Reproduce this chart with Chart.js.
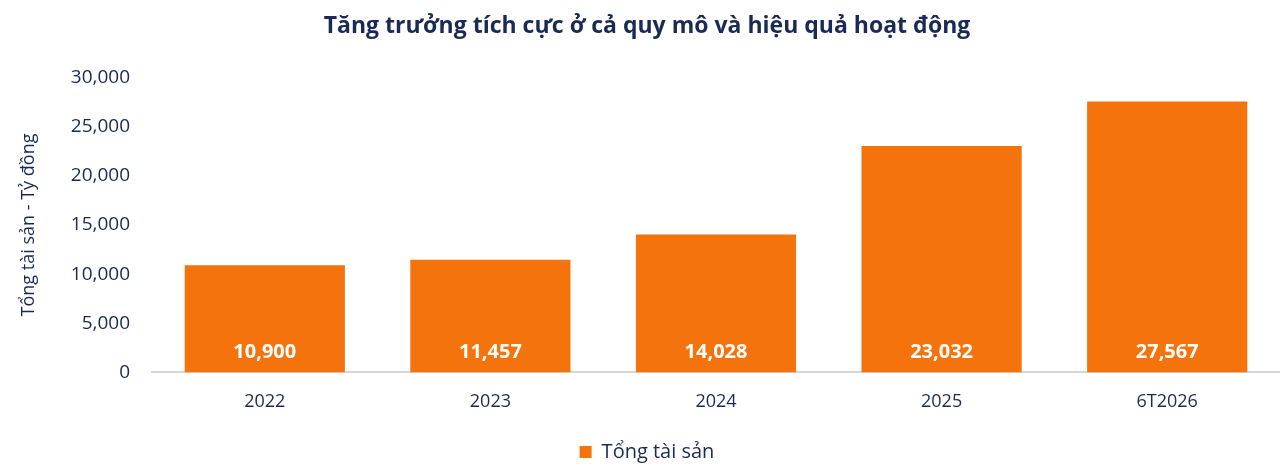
<!DOCTYPE html>
<html>
<head>
<meta charset="utf-8">
<script src="https://cdn.jsdelivr.net/npm/chart.js@4"></script>
<style>
  html, body { margin: 0; padding: 0; background: #fff; }
  #wrap { width: 1280px; height: 472px; }
</style>
</head>
<body>
<div id="wrap"><canvas id="myChart" width="1280" height="472"></canvas></div>
<script>
let labels = ['2022', '2023', '2024', '2025', '6T2026'];
let totalAssets = [10900, 11457, 14028, 23032, 27567];
let yTicks = [0, 5000, 10000, 15000, 20000, 25000, 30000];

let navy = '#1b2a55';
let orange = '#f4730c';
let fontName = "'Open Sans', 'Noto Sans', sans-serif";

// numbers written inside the bars, near the bottom
let insideLabels = {
    id: 'insideLabels',
    afterDatasetsDraw(chart) {
        let ctx = chart.ctx;
        let meta = chart.getDatasetMeta(0);
        let base = chart.scales.y.getPixelForValue(0);
        ctx.save();
        ctx.fillStyle = '#ffffff';
        ctx.font = 'bold 20px ' + fontName;
        ctx.textAlign = 'center';
        ctx.textBaseline = 'middle';
        meta.data.forEach((bar, i) => {
            ctx.fillText(totalAssets[i].toLocaleString('en-US'), bar.x, base - 20);
        });
        ctx.restore();
    }
};

let ctx = document.getElementById('myChart').getContext('2d');
let myChart = new Chart(ctx, {
    type: 'bar',
    data: {
        labels: labels,
        datasets: [{
            label: 'Tổng tài sản',
            data: totalAssets,
            backgroundColor: orange,
            borderWidth: 0,
            categoryPercentage: 0.71,
            barPercentage: 1
        }]
    },
    options: {
        responsive: false,
        animation: false,
        layout: { padding: { left: 14, right: 0, top: 0, bottom: 0 } },
        plugins: {
            title: {
                display: true,
                text: 'Tăng trưởng tích cực ở cả quy mô và hiệu quả hoạt động',
                color: navy,
                font: { family: fontName, size: 23, weight: 'bold' },
                padding: { top: 13, bottom: 37 }
            },
            legend: {
                position: 'bottom',
                labels: {
                    color: navy,
                    font: { family: fontName, size: 20 },
                    boxWidth: 12,
                    boxHeight: 12,
                    padding: 6
                }
            },
            tooltip: { enabled: false }
        },
        scales: {
            x: {
                grid: { display: false, drawTicks: false },
                border: { display: true, color: '#d6d6d6', width: 2 },
                afterFit(axis) { axis.height += 4; },
                ticks: {
                    color: navy,
                    font: { family: fontName, size: 18 },
                    padding: 19
                }
            },
            y: {
                min: 0,
                max: 30000,
                afterBuildTicks(axis) {
                    axis.ticks = yTicks.map(v => ({ value: v }));
                },
                afterFit(axis) { axis.width = 138; },
                grid: { display: false, drawTicks: false },
                border: { display: false },
                title: {
                    display: true,
                    text: 'Tổng tài sản - Tỷ đồng',
                    color: navy,
                    font: { family: fontName, size: 18 },
                    padding: { bottom: 10 }
                },
                ticks: {
                    color: navy,
                    font: { family: fontName, size: 19 },
                    padding: 22,
                    callback: v => v.toLocaleString('en-US')
                }
            }
        }
    },
    plugins: [insideLabels]
});
</script>
</body>
</html>
